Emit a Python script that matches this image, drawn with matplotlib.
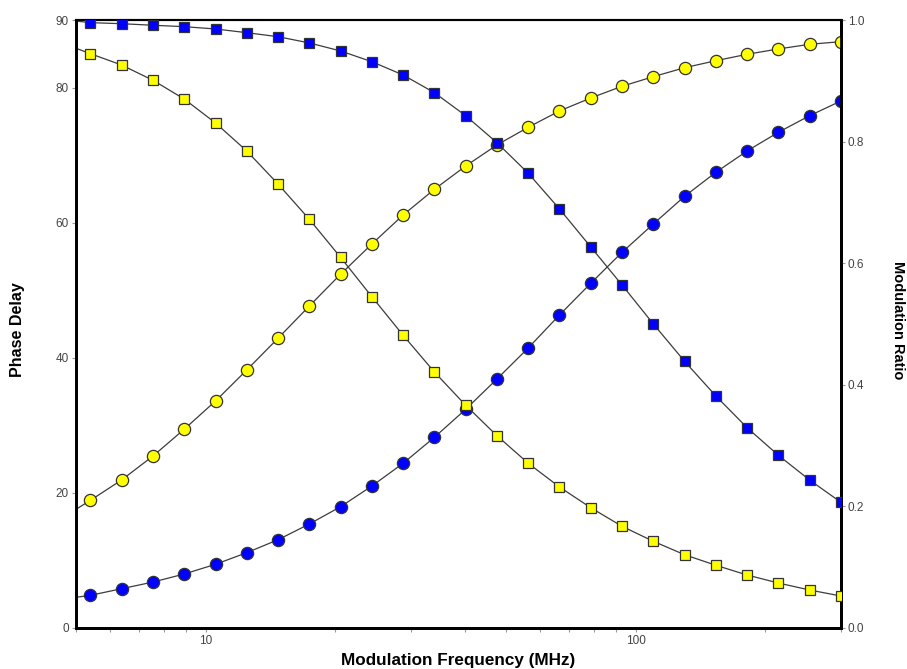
import matplotlib
matplotlib.use("Agg")
import matplotlib.pyplot as plt
from matplotlib.ticker import FixedLocator, NullFormatter

plt.rcParams["font.family"] = ["Liberation Sans", "DejaVu Sans"]

# --- Data ---
freq = [5.40, 6.38, 7.55, 8.92, 10.55, 12.47, 14.74, 17.43, 20.60, 24.36,
        28.80, 34.04, 40.25, 47.58, 56.25, 66.50, 78.62, 92.94, 109.9, 129.9,
        153.6, 181.5, 214.6, 253.7, 300.0]
"""Modulation frequency [MHz]"""

phase_yellow = [18.88, 21.89, 25.45, 29.41, 33.60, 38.20, 42.90, 47.68, 52.38,
                56.87, 61.17, 64.98, 68.43, 71.55, 74.17, 76.59, 78.51, 80.25,
                81.67, 83.00, 84.04, 84.99, 85.78, 86.47, 86.86]
phase_blue = [4.80, 5.78, 6.77, 7.96, 9.40, 11.12, 13.04, 15.37, 17.93, 21.00,
              24.37, 28.22, 32.37, 36.86, 41.46, 46.35, 51.05, 55.64, 59.84,
              63.94, 67.50, 70.66, 73.43, 75.89, 78.07]
mod_yellow = [0.9453, 0.9267, 0.9015, 0.8707, 0.8312, 0.7851, 0.7307, 0.6726,
              0.6100, 0.5451, 0.4816, 0.4211, 0.3663, 0.3162, 0.2708, 0.2317,
              0.1976, 0.1670, 0.1423, 0.1202, 0.1028, 0.0868, 0.0736, 0.0621,
              0.0522]
mod_blue = [0.9964, 0.9947, 0.9921, 0.9898, 0.9860, 0.9799, 0.9733, 0.9630,
            0.9498, 0.9321, 0.9102, 0.8811, 0.8432, 0.7987, 0.7484, 0.6896,
            0.6270, 0.5644, 0.5002, 0.4387, 0.3816, 0.3294, 0.2839, 0.2432,
            0.2065]

# fitted curves start at the left edge of the axis (5 MHz)
f_start = 5.0
phase_yellow_start = 17.55
phase_blue_start = 4.51
mod_yellow_start = 0.9542
mod_blue_start = 0.9990

phase_ticks = [0, 20, 40, 60, 80, 90]
mod_ticks = [0.0, 0.2, 0.4, 0.6, 0.8, 1.0]
freq_major = [10, 100]
freq_minor = [5, 6, 7, 8, 9, 20, 30, 40, 50, 60, 70, 80, 90, 200, 300]

YELLOW = "#FFFF00"
BLUE = "#0000FF"
EDGE = "#333333"
LINE = "#3c3c3c"
TICK = "#444444"

W, H = 907, 669
fig = plt.figure(figsize=(W / 100, H / 100), dpi=100)
ax = fig.add_axes([0.0838, 0.0617, 0.8434, 0.9077])
ax2 = ax.twinx()


def draw(axis, x0, y0, y, marker, color, ms):
    axis.plot([x0] + freq, [y0] + y, color=LINE, lw=0.9, zorder=2)
    axis.plot(freq, y, ls="none", marker=marker, ms=ms, mfc=color,
              mec=EDGE, mew=0.9, zorder=3)


# phase delay (circles, left axis)
draw(ax, f_start, phase_yellow_start, phase_yellow, "o", YELLOW, 8.8)
draw(ax, f_start, phase_blue_start, phase_blue, "o", BLUE, 8.8)
# modulation ratio (squares, right axis)
draw(ax2, f_start, mod_yellow_start, mod_yellow, "s", YELLOW, 7.8)
draw(ax2, f_start, mod_blue_start, mod_blue, "s", BLUE, 7.8)

ax.set_xscale("log")
ax.set_xlim(5, 300)
ax.set_ylim(0, 90)
ax2.set_ylim(0, 1.0)

ax.xaxis.set_major_locator(FixedLocator(freq_major))
ax.xaxis.set_minor_locator(FixedLocator(freq_minor))
ax.xaxis.set_minor_formatter(NullFormatter())
ax.set_xticklabels([str(v) for v in freq_major])
ax.set_yticks(phase_ticks)
ax.set_yticklabels([str(v) for v in phase_ticks])
ax2.set_yticks(mod_ticks)
ax2.set_yticklabels([f"{v:.1f}" for v in mod_ticks])

for a in (ax, ax2):
    a.tick_params(which="both", direction="out", length=3, width=0.8,
                  color="#999999", labelcolor=TICK, labelsize=8.5, pad=2)
    for side in ("left", "right", "bottom"):
        a.spines[side].set_linewidth(2.0)
    a.spines["top"].set_linewidth(1.5)

# axis titles placed where the reference has them
fig.text(458 / W, 1 - 660 / H, "Modulation Frequency (MHz)", fontsize=12.3,
         fontweight="bold", ha="center", va="center")
fig.text(18 / W, 1 - 330 / H, "Phase Delay", fontsize=11.5,
         fontweight="bold", rotation=90, ha="center", va="center")
fig.text(898 / W, 1 - 320 / H, "Modulation Ratio", fontsize=10.5,
         fontweight="bold", rotation=270, ha="center", va="center")

fig.savefig("out.png", dpi=100)
